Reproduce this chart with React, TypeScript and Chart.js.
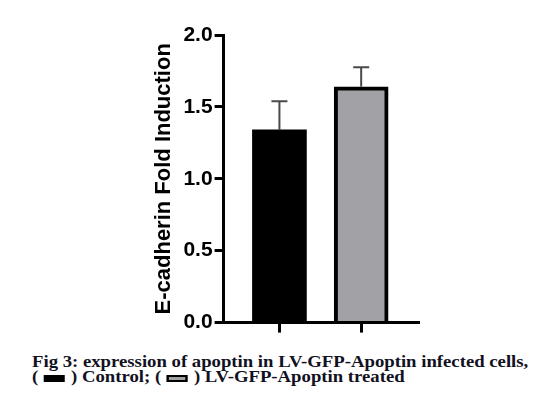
import React, { useEffect, useRef } from "react";
import { Chart, registerables } from "chart.js";

Chart.register(...registerables);

const groups = ["Control", "LV-GFP-Apoptin treated"];
const positions = [0, 1];
const means = [1.34, 1.64];
const errors = [0.2, 0.135];
const fills = ["#000000", "#a2a1a6"];
const yTicks = [0, 0.5, 1.0, 1.5, 2.0];

const errorBarPlugin = {
  id: "errorBars",
  afterDatasetsDraw(chart: any) {
    const ctx = chart.ctx;
    const xs = chart.scales.x;
    const ys = chart.scales.y;
    ctx.save();
    ctx.strokeStyle = "#4a4a4a";
    ctx.lineWidth = 2;
    for (let i = 0; i < means.length; i++) {
      const x = xs.getPixelForValue(positions[i]);
      const yb = ys.getPixelForValue(means[i]);
      const yt = ys.getPixelForValue(means[i] + errors[i]);
      ctx.beginPath();
      ctx.moveTo(x, yb);
      ctx.lineTo(x, yt);
      ctx.moveTo(x - 8, yt);
      ctx.lineTo(x + 8, yt);
      ctx.stroke();
    }
    ctx.restore();
  },
};

export default function App() {
  const ref = useRef<HTMLCanvasElement>(null);
  useEffect(() => {
    if (!ref.current) return;
    const chart = new Chart(ref.current, {
      type: "bar",
      data: {
        datasets: [
          {
            label: "E-cadherin",
            data: positions.map((p, i) => ({ x: p, y: means[i] })),
            backgroundColor: fills,
            borderColor: "#000000",
            borderWidth: [0, 4],
            borderSkipped: "start",
            barThickness: 54,
          },
        ],
      },
      options: {
        animation: false,
        responsive: false,
        maintainAspectRatio: false,
        layout: { padding: { left: 151, right: 116, top: 35, bottom: 5 } },
        plugins: { legend: { display: false }, tooltip: { enabled: false } },
        scales: {
          x: {
            type: "linear",
            offset: false,
            min: -0.683,
            max: 1.695,
            afterBuildTicks: (axis: any) => {
              axis.ticks = positions.map((v) => ({ value: v }));
            },
            ticks: { callback: () => "", padding: 0, font: { size: 2 } },
            grid: {
              offset: false,
              drawOnChartArea: false,
              drawTicks: true,
              tickLength: 10,
              lineWidth: 3,
              color: "#000000",
            },
            border: { display: true, color: "#000000", width: 3 },
          },
          y: {
            min: 0,
            max: 2,
            afterBuildTicks: (axis: any) => {
              axis.ticks = yTicks.map((v) => ({ value: v }));
            },
            ticks: {
              color: "#000000",
              padding: 2,
              font: { family: "Liberation Sans", size: 21, weight: "bold" },
              callback: (v: any) => Number(v).toFixed(1),
            },
            grid: {
              drawOnChartArea: false,
              drawTicks: true,
              tickLength: 9,
              lineWidth: 3,
              color: "#000000",
            },
            border: { display: true, color: "#000000", width: 3 },
            title: {
              display: true,
              text: "E-cadherin Fold Induction",
              color: "#000000",
              font: { family: "Liberation Sans", size: 22, weight: "bold" },
              padding: { top: 0, bottom: 4 },
            },
          },
        },
      },
      plugins: [errorBarPlugin],
    });
    return () => chart.destroy();
  }, []);

  const box = (bg: string, w: number, h: number, border: string) => (
    <span
      style={{
        display: "inline-block",
        width: w,
        height: h,
        background: bg,
        border,
        verticalAlign: "baseline",
        margin: "0 5px",
      }}
    />
  );

  return (
    <div style={{ position: "absolute", left: 0, top: 0, width: 534, height: 398, background: "#fff" }}>
      <canvas ref={ref} width={534} height={340} style={{ position: "absolute", left: 0, top: 0 }} />
      <div
        style={{
          position: "absolute",
          left: 32,
          top: 354,
          fontFamily: "Liberation Serif",
          fontWeight: "bold",
          fontSize: 16,
          lineHeight: "15px",
          color: "#111122",
          whiteSpace: "nowrap",
          transform: "scaleX(1.17)",
          transformOrigin: "left top",
        }}
      >
        <div>Fig 3: expression of apoptin in LV-GFP-Apoptin infected cells,</div>
        <div>
          ({box(fills[0], 18, 7, "none")}) {groups[0]}; ({box(fills[1], 14, 3, "2px solid #000")}) {groups[1]}
        </div>
      </div>
    </div>
  );
}
